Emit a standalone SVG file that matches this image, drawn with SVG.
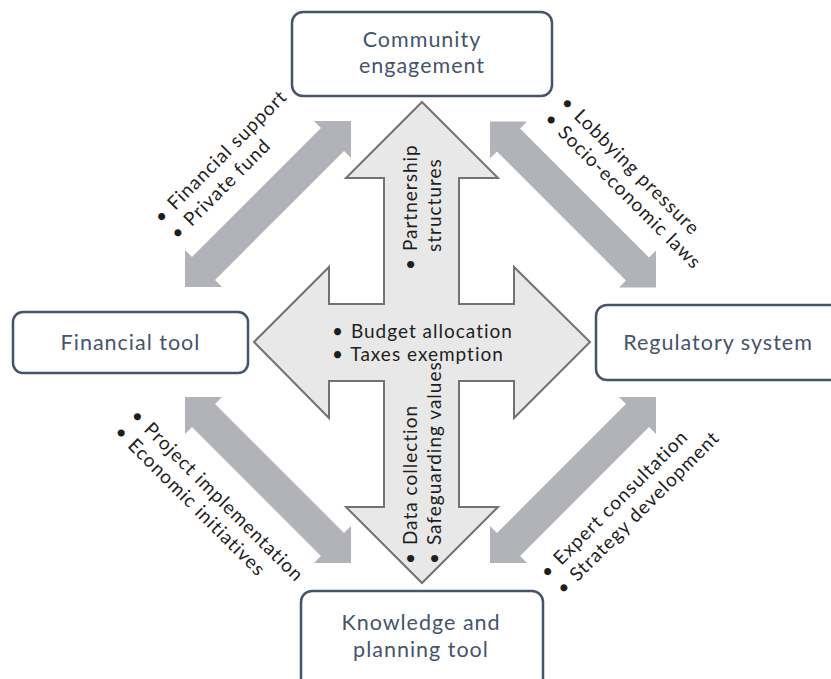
<svg xmlns="http://www.w3.org/2000/svg" width="831" height="679" viewBox="0 0 831 679">
<style>
.box{fill:#ffffff;stroke:#44546a;stroke-width:2.5}
.bt{font-family:Lato,"Open Sans",sans-serif;font-size:21.5px;letter-spacing:1px;fill:#44546a;text-anchor:middle}
.lb{font-family:Lato,"Open Sans",sans-serif;font-size:19px;letter-spacing:1px;fill:#1e1e1e}
.arr{fill:#b1b3b9}
.cross{fill:#e8e8e8;stroke:#767171;stroke-width:2}
</style>
<defs>
<polygon id="dbl" points="-117.4,0 -91.2,-26.2 -91.2,-16.3 91.2,-16.3 91.2,-26.2 117.4,0 91.2,26.2 91.2,16.3 -91.2,16.3 -91.2,26.2"/>
</defs>
<g id="connectors">
<use href="#dbl" class="arr" transform="translate(268,204) rotate(-45)"/>
<use href="#dbl" class="arr" transform="translate(573,204.5) rotate(45)"/>
<use href="#dbl" class="arr" transform="translate(268,480) rotate(45)"/>
<use href="#dbl" class="arr" transform="translate(573,480) rotate(-45)"/>
</g>
<g id="center-cross">
<polygon class="cross" points="422,102 498,178 459,178 459,304 514,304 514,267 590,342 514,418 514,381 459,381 459,507 498,507 422,583 346,507 384,507 384,381 329,381 329,418 254,342 329,267 329,304 384,304 384,178 346,178"/>
<text class="lb"><tspan x="332" y="337.5">•<tspan dx="1"> Budget allocation</tspan></tspan><tspan x="332" y="361">•<tspan dx="1"> Taxes exemption</tspan></tspan></text>
<text class="lb" transform="translate(416.5,270) rotate(-90)"><tspan x="0" y="0">•<tspan dx="1"> Partnership</tspan></tspan><tspan x="18" y="24.5">structures</tspan></text>
<text class="lb" transform="translate(416.5,564) rotate(-90)"><tspan x="0" y="0">•<tspan dx="1"> Data collection</tspan></tspan><tspan x="0" y="24.5">•<tspan dx="1"> Safeguarding values</tspan></tspan></text>
</g>
<g id="node-community">
<rect class="box" x="292" y="12" width="260" height="84" rx="11"/>
<text class="bt"><tspan x="422" y="47">Community</tspan><tspan x="422" y="73">engagement</tspan></text>
</g>
<g id="node-financial">
<rect class="box" x="13" y="312" width="235" height="61" rx="10"/>
<text class="bt" x="130.5" y="350">Financial tool</text>
</g>
<g id="node-regulatory">
<rect class="box" x="596" y="305" width="246" height="75" rx="11"/>
<text class="bt" x="718" y="350">Regulatory system</text>
</g>
<g id="node-knowledge">
<rect class="box" x="301" y="591" width="242" height="100" rx="11"/>
<text class="bt"><tspan x="421" y="630">Knowledge and</tspan><tspan x="421" y="657">planning tool</tspan></text>
</g>
<g id="labels">
<text class="lb" transform="translate(161.8,224.4) rotate(-45)"><tspan x="0" y="0">•<tspan dx="1"> Financial support</tspan></tspan><tspan x="0" y="23">•<tspan dx="1"> Private fund</tspan></tspan></text>
<text class="lb" transform="translate(559.6,103.8) rotate(45)"><tspan x="0" y="0">•<tspan dx="1"> Lobbying pressure</tspan></tspan><tspan x="0" y="23">•<tspan dx="1"> Socio-economic laws</tspan></tspan></text>
<text class="lb" transform="translate(129.6,416.8) rotate(45)"><tspan x="0" y="0">•<tspan dx="1"> Project implementation</tspan></tspan><tspan x="0" y="23">•<tspan dx="1"> Economic initiatives</tspan></tspan></text>
<text class="lb" transform="translate(547.8,579.4) rotate(-45)"><tspan x="0" y="0">•<tspan dx="1"> Expert consultation</tspan></tspan><tspan x="0" y="23">•<tspan dx="1"> Strategy development</tspan></tspan></text>
</g>
</svg>
